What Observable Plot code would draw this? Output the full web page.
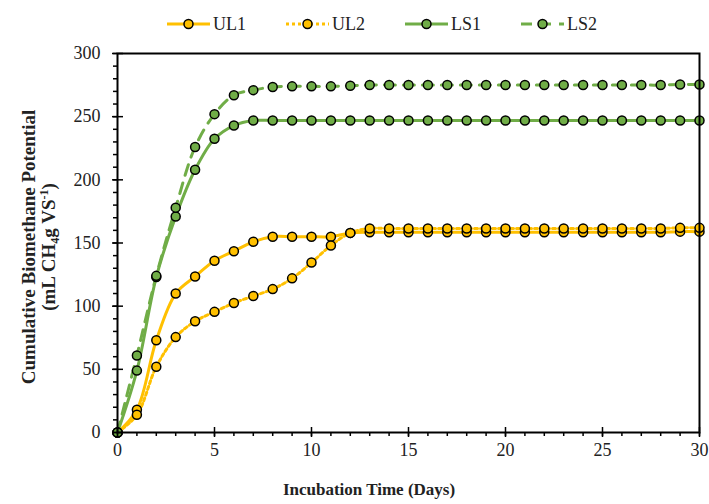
<!DOCTYPE html>
<html>
<head>
<meta charset="utf-8">
<script src="https://cdn.jsdelivr.net/npm/d3@7"></script>
<script src="https://cdn.jsdelivr.net/npm/@observablehq/plot@0.6"></script>
<style>
  html, body { margin: 0; padding: 0; background: #fff; }
  body { width: 709px; height: 504px; overflow: hidden; font-family: "Liberation Serif", "DejaVu Serif", serif; }
  #legend { height: 32px; padding-top: 8px; display: flex; align-items: center; gap: 40px; padding-left: 167px; font-size: 18px; color: #222; }
  .item { display: flex; align-items: center; gap: 3px; }
  .item svg { display: block; }
</style>
</head>
<body>
<div id="legend"></div>
<div id="chart"></div>
<script>
// ---- data ----
const days = [0,1,2,3,4,5,6,7,8,9,10,11,12,13,14,15,16,17,18,19,20,21,22,23,24,25,26,27,28,29,30];
const UL1 = [0,18,73,110,123.5,136,143.5,151,155,155,155,155,158,158.5,158.5,158.5,158.5,158.5,158.5,158.5,158.5,158.5,158.5,158.5,158.5,158.5,158.5,158.5,158.5,159,159];
const UL2 = [0,14,52,75.5,88,95.5,102.5,108,113.5,122,134.5,148,158,161.5,161.5,161.5,161.5,161.5,161.5,161.5,161.5,161.5,161.5,161.5,161.5,161.5,161.5,161.5,161.5,162,162];
const LS1 = [0,49,123,171,208,232.5,243,247,247,247,247,247,247,247,247,247,247,247,247,247,247,247,247,247,247,247,247,247,247,247,247];
const LS2 = [0,61,124,178,226,252,267,271,273.5,274,274,274,274.5,275,275,275,275,275,275,275,275,275,275,275,275,275,275,275,275,275.5,275.5];
const seriesNames = ["UL1","UL2","LS1","LS2"];
const xTicks = [0,5,10,15,20,25,30];
const yTicks = [0,50,100,150,200,250,300];
const yMinorTicks = [0,10,20,30,40,50,60,70,80,90,100,110,120,130,140,150,160,170,180,190,200,210,220,230,240,250,260,270,280,290,300];

const YELLOW = "#FFC000", GREEN = "#70AD47";
const styles = {
  UL1: {color: YELLOW, dash: null},
  UL2: {color: YELLOW, dash: "3,3"},
  LS1: {color: GREEN, dash: null},
  LS2: {color: GREEN, dash: "11,8"}
};
const values = {UL1, UL2, LS1, LS2};
const rows = seriesNames.flatMap(s => days.map((d, i) => ({series: s, day: d, value: values[s][i]})));

// ---- legend ----
const legend = document.getElementById("legend");
for (const s of seriesNames) {
  const st = styles[s];
  const item = document.createElement("div");
  item.className = "item";
  item.innerHTML = `<svg width="43" height="14"><line x1="0" x2="43" y1="7" y2="7" stroke="${st.color}" stroke-width="3" ${st.dash ? `stroke-dasharray="${st.dash}"` : ""}/><circle cx="21.5" cy="7" r="4.5" fill="${st.color}" stroke="#000" stroke-width="1.5"/></svg><span>${s}</span>`;
  legend.appendChild(item);
}

// ---- chart ----
const W = 709, H = 464, mt = 13, mb = 72, ml = 117, mr = 10;
const innerH = H - mt - mb;
const innerW = W - ml - mr;

const marks = [];
for (const s of seriesNames) {
  const st = styles[s];
  marks.push(Plot.line(rows.filter(r => r.series === s), {
    x: "day", y: "value", stroke: st.color, strokeWidth: 3,
    strokeDasharray: st.dash ?? undefined, curve: "catmull-rom"
  }));
}
for (const s of seriesNames) {
  const st = styles[s];
  marks.push(Plot.dot(rows.filter(r => r.series === s), {
    x: "day", y: "value", r: 4.5, fill: st.color, stroke: "#000", strokeWidth: 1.5
  }));
}

const fontFam = "Liberation Serif, DejaVu Serif, serif";
const plot = Plot.plot({
  width: W, height: H,
  marginTop: mt, marginBottom: mb, marginLeft: ml, marginRight: mr,
  style: {fontFamily: fontFam, fontSize: "18px", color: "#222", background: "#fff", overflow: "visible"},
  x: {domain: [0, 30]},
  y: {domain: [0, 300]},
  marks: [
    ...marks,
    Plot.frame({stroke: "#000", strokeWidth: 2}),
    // minor ticks
    Plot.axisX(days, {tickSize: 4, tickFormat: () => "", stroke: "#000", strokeWidth: 1.5, label: null}),
    Plot.axisY(yMinorTicks, {tickSize: 4, tickFormat: () => "", stroke: "#000", strokeWidth: 1.5, label: null}),
    // major ticks (outside + labels)
    Plot.axisX(xTicks, {tickSize: 5, tickPadding: 6, stroke: "#000", strokeWidth: 1.5, label: null, fill: "#222"}),
    Plot.axisY(yTicks, {tickSize: 5, tickPadding: 12, stroke: "#000", strokeWidth: 1.5, label: null, fill: "#222"}),
    // major ticks (inside part)
    Plot.tickX(xTicks, {x: d => d, stroke: "#000", strokeWidth: 1.5, insetTop: innerH - 5}),
    Plot.tickY(yTicks, {y: d => d, stroke: "#000", strokeWidth: 1.5, insetRight: innerW - 6})
  ]
});
document.getElementById("chart").appendChild(plot);

// axis titles
const svg = d3.select(plot);
svg.append("text")
  .attr("x", 369).attr("y", 455)
  .attr("text-anchor", "middle")
  .attr("font-family", fontFam).attr("font-weight", "bold").attr("font-size", 17)
  .attr("fill", "#222")
  .text("Incubation Time (Days)");

const yt = svg.append("g").attr("transform", "translate(0,207) rotate(-90)")
  .attr("font-family", fontFam).attr("font-weight", "bold").attr("font-size", 19)
  .attr("fill", "#222").attr("text-anchor", "middle");
yt.append("text").attr("x", 0).attr("y", 35).text("Cumulative Biomethane Potential");
const t2 = yt.append("text").attr("x", 0).attr("y", 55);
t2.append("tspan").text("(mL CH");
t2.append("tspan").attr("font-size", 12).attr("dy", 4).text("4");
t2.append("tspan").attr("dy", -4).text("g VS");
t2.append("tspan").attr("font-size", 12).attr("dy", -7).text("-1");
t2.append("tspan").attr("dy", 7).text(")");
</script>
</body>
</html>
